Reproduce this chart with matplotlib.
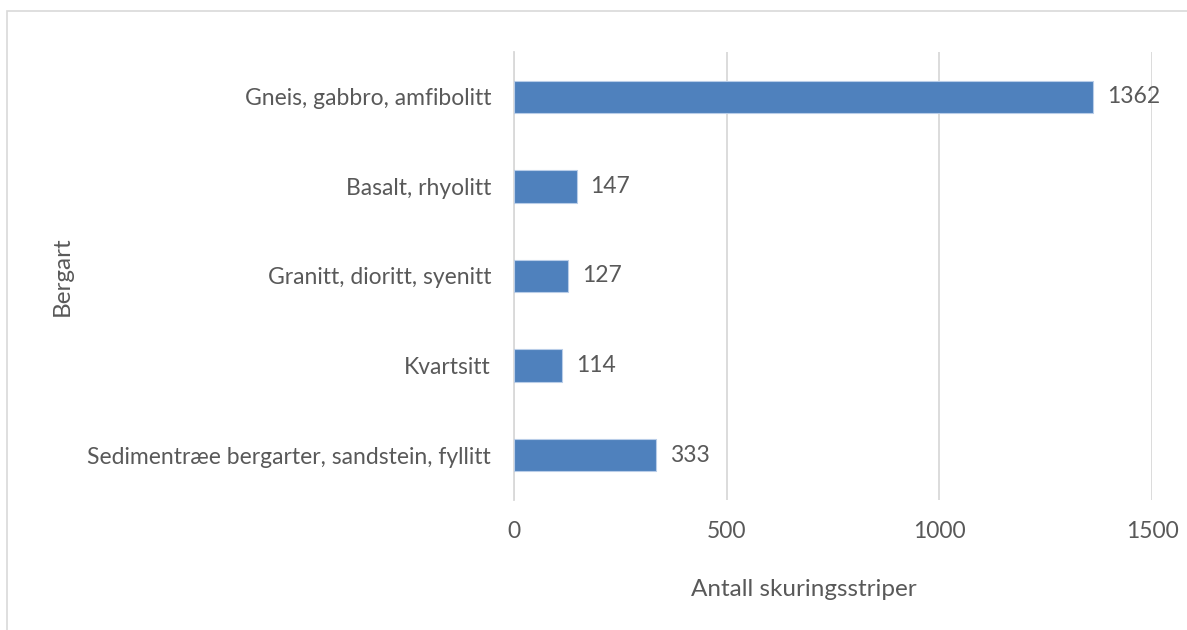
import matplotlib
matplotlib.use("Agg")
import matplotlib.pyplot as plt
from matplotlib.patches import Rectangle

categories = ["Gneis, gabbro, amfibolitt", "Basalt, rhyolitt", "Granitt, dioritt, syenitt",
              "Kvartsitt", "Sedimentræe bergarter, sandstein, fyllitt"]
values = [1362, 147, 127, 114, 333]
xticks = [0, 500, 1000, 1500]
xlabel = "Antall skuringsstriper"
ylabel = "Bergart"

W, H = 1187, 630
plt.rcParams['font.family'] = ['Lato', 'DejaVu Sans']
fig = plt.figure(figsize=(W / 100, H / 100), dpi=100)
TXT = '#595959'
GRID = '#d9d9d9'
FS = 16.5

# outer chart border (extends off right and bottom)
fig.patches.append(Rectangle((7 / W, -0.1), 1.2, 1 - 11 / H + 0.1, transform=fig.transFigure,
                             fill=False, edgecolor=GRID, linewidth=1.2))

ax = fig.add_axes([514 / W, 1 - 500 / H, (1152 - 514) / W, (500 - 52) / H])
pos = list(range(len(categories)))[::-1]
ax.barh(pos, values, height=0.36, color='#4f81bd', edgecolor='#b9cde8', linewidth=0.8, zorder=3)
for p, v in zip(pos, values):
    ax.text(v + 33, p, str(v), va='center', ha='left', fontsize=FS, color=TXT)

ax.set_xlim(0, 1500)
ax.set_ylim(-0.5, len(categories) - 0.5)
ax.set_xticks(xticks)
ax.set_xticklabels([str(t) for t in xticks])
ax.set_yticks(pos)
ax.set_yticklabels(categories)
ax.tick_params(axis='both', length=0, labelsize=FS, labelcolor=TXT)
ax.tick_params(axis='x', pad=15)
ax.tick_params(axis='y', pad=16.5)
ax.grid(axis='x', color=GRID, linewidth=1.3, zorder=0)
for s in ['top', 'right', 'bottom']:
    ax.spines[s].set_visible(False)
ax.spines['left'].set_color(GRID)
ax.spines['left'].set_linewidth(1.3)

fig.text(804 / W, 1 - 590 / H, xlabel, ha='center', va='center', fontsize=17.5, color=TXT)
fig.text(62 / W, 1 - 276 / H, ylabel, ha='center', va='center', rotation=90, fontsize=17.5, color=TXT)

fig.savefig('out.png', dpi=100, facecolor='white')
